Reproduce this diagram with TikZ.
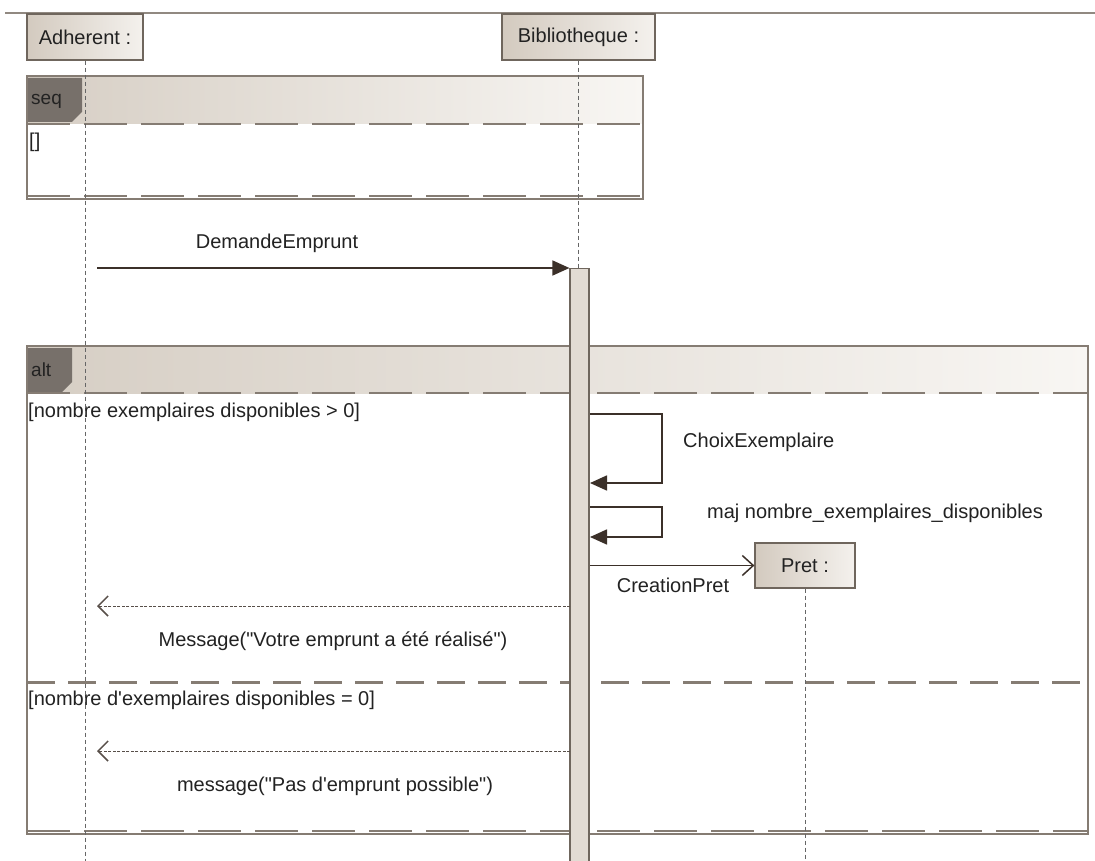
\documentclass[tikz,border=0pt]{standalone}
\usepackage{fontspec}
\setmainfont{Liberation Sans}
\newfontfamily\libsans{Liberation Sans}
\usetikzlibrary{arrows.meta}
\definecolor{boxL}{HTML}{D3CABF}
\definecolor{boxR}{HTML}{F4F1ED}
\definecolor{edge}{HTML}{6F665D}
\definecolor{tagc}{HTML}{77706A}
\definecolor{hdrL}{HTML}{D6CEC4}
\definecolor{hdrR}{HTML}{F8F6F3}
\definecolor{life}{HTML}{666666}
\definecolor{txt}{HTML}{222222}
\definecolor{arr}{HTML}{3B3029}
\definecolor{actf}{HTML}{E2DBD3}
\definecolor{framec}{HTML}{857C73}
\tikzset{
  participant/.style={draw=edge, line width=1.2pt, left color=boxL, right color=boxR,
    minimum height=46pt, inner sep=0pt, text=txt, font=\libsans\fontsize{20}{23}\selectfont},
  lifeline/.style={draw=life, line width=1pt, dash pattern=on 4.5pt off 2.5pt},
  lbl/.style={text=txt, font=\libsans\fontsize{20}{23}\selectfont, inner sep=0pt},
  sync/.style={draw=arr, line width=1.6pt, -{Triangle[length=17pt,width=15pt]}},
  reply/.style={draw=arr!85, line width=1pt, dash pattern=on 3pt off 1.5pt,
    -{Straight Barb[length=10pt,width=20pt,line width=1.5pt]}},
  create/.style={draw=arr, line width=1.3pt, -{Straight Barb[length=11pt,width=20pt,line width=1.5pt]}},
  frameline/.style={draw=framec, line width=1.4pt},
  hdrsep/.style={draw=framec, line width=1.2pt, dash pattern=on 43pt off 14pt},
  botsep/.style={draw=framec, line width=2pt, dash pattern=on 43pt off 14pt},
  altsep/.style={draw=framec, line width=3pt, dash pattern=on 28pt off 13pt},
  tagtext/.style={text=txt, font=\libsans\fontsize{19}{22}\selectfont, inner sep=0pt, anchor=west},
}
\begin{document}
\begin{tikzpicture}[x=1pt,y=-1pt]
\useasboundingbox (0,0) rectangle (1095,861);
\fill[white] (0,0) rectangle (1095,861);
% top rule
\draw[draw=framec!90, line width=2pt] (5,13) -- (1095,13);

% participants
\node[participant, minimum width=116pt] (adh) at (85,37) {Adherent :};
\node[participant, minimum width=153pt] (bib) at (578.5,37) {Bibliotheque :};

% seq frame
\shade[left color=hdrL, right color=hdrR] (27,76) rectangle (643,124);
\fill[tagc] (27,78) -- (82,78) -- (82,112) -- (72,122) -- (27,122) -- cycle;
\node[tagtext] (seqtag) at (31,101) {seq};
\draw[hdrsep] (27,124) -- (643,124);
\draw[botsep] (27,196) -- (643,196);
\draw[frameline] (27,76) rectangle (643,199);
\node[lbl, anchor=west] (g0) at (29,142) {[]};

% alt frame
\shade[left color=hdrL, right color=hdrR] (27,346) rectangle (1088,393);
\fill[tagc] (27,348) -- (72,348) -- (72,382) -- (62,392) -- (27,392) -- cycle;
\node[tagtext] (alttag) at (31,370) {alt};
\draw[hdrsep] (27,393) -- (1088,393);
\draw[altsep] (27,682) -- (1088,682);
\draw[botsep] (27,831) -- (1088,831);
\draw[frameline] (27,346) rectangle (1088,834);
\node[lbl, anchor=west] (g1) at (28,412) {[nombre exemplaires disponibles > 0]};
\node[lbl, anchor=west] (g2) at (28,700) {[nombre d'exemplaires disponibles = 0]};

% lifelines
\coordinate (adhEnd) at (85,861);
\coordinate (bibEnd) at (578.5,861);
\draw[lifeline] (adh.south) -- (adhEnd);
\draw[lifeline] (bib.south) -- (bibEnd);

% activation bar
\node[draw=edge, fill=actf, line width=1.2pt, minimum width=19pt, minimum height=593pt,
  inner sep=0pt, anchor=north] (act) at (579.5,268) {};

% Pret participant
\node[participant, minimum width=100pt, minimum height=45pt] (pret) at (805,565.5) {Pret :};
\coordinate (pretEnd) at (805,861);
\draw[lifeline] (pret.south) -- (pretEnd);

% DemandeEmprunt
\coordinate (m1s) at (97,268);
\draw[sync] (m1s) -- (act.north west);
\node[lbl] (l1) at (277,243) {DemandeEmprunt};

% ChoixExemplaire self message
\coordinate (c1a) at (590,414);
\coordinate (c1b) at (590,483);
\draw[sync] (c1a) -- (662,414) -- (662,483) -- (c1b);
\node[lbl, anchor=west] (l2) at (683,442) {ChoixExemplaire};

% maj self message
\coordinate (c2a) at (590,507);
\coordinate (c2b) at (590,537);
\draw[sync] (c2a) -- (662,507) -- (662,537) -- (c2b);
\node[lbl, anchor=west] (l3) at (707,513) {maj nombre\_exemplaires\_disponibles};

% CreationPret
\coordinate (c3a) at (590,565.5);
\draw[create] (c3a) -- (pret.west);
\node[lbl] (l4) at (673,585) {CreationPret};

% replies
\coordinate (r1s) at (570,606);
\coordinate (r1e) at (97,606);
\draw[reply] (r1s) -- (r1e);
\node[lbl] (l5) at (333,641) {Message("Votre emprunt a été réalisé")};

\coordinate (r2s) at (570,751);
\coordinate (r2e) at (97,751);
\draw[reply] (r2s) -- (r2e);
\node[lbl] (l6) at (335,786) {message("Pas d'emprunt possible")};
\end{tikzpicture}
\end{document}
